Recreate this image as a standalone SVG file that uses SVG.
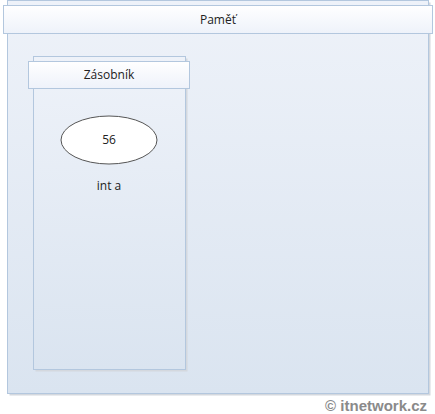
<svg xmlns="http://www.w3.org/2000/svg" width="435" height="414" viewBox="0 0 435 414">
<defs>
<linearGradient id="bg" x1="0" y1="0" x2="0" y2="1">
<stop offset="0" stop-color="#eef2f9"/>
<stop offset="1" stop-color="#dae4f0"/>
</linearGradient>
<linearGradient id="hd" x1="0" y1="0" x2="0" y2="1">
<stop offset="0" stop-color="#ffffff"/>
<stop offset="1" stop-color="#eef2fa"/>
</linearGradient>
</defs>
<style>
.box{fill:url(#bg);stroke:#b3c7de;stroke-width:1}
.shadow{fill:#d4d8de}
.hdr{fill:url(#hd);stroke:#b3c7de;stroke-width:1}
.t{font-family:"Open Sans","Liberation Sans",sans-serif;font-size:12px;fill:#222;text-anchor:middle}
.wm{font-family:"Liberation Sans",Arial,sans-serif;font-size:15px;font-weight:bold;fill:#8a8a8a}
</style>
<rect x="0" y="0" width="435" height="414" fill="#ffffff"/>
<g id="pamet">
<rect class="shadow" x="9.5" y="2.5" width="421" height="393"/>
<rect class="box" x="7.5" y="0.5" width="421" height="393"/>
<rect class="hdr" x="3.5" y="5.5" width="429" height="28"/>
<text class="t" x="218" y="23.5">Paměť</text>
</g>
<g id="zasobnik">
<rect class="shadow" x="35.5" y="58.5" width="152" height="313"/>
<rect class="box" x="33.5" y="56.5" width="152" height="313"/>
<rect class="hdr" x="28.5" y="61.5" width="161" height="27"/>
<text class="t" x="109" y="79">Zásobník</text>
</g>
<g id="hodnota">
<ellipse cx="109" cy="140" rx="48" ry="24" fill="#ffffff" stroke="#555" stroke-width="1"/>
<text class="t" x="109" y="144">56</text>
<text class="t" x="109" y="190">int a</text>
</g>
<g id="connectors"/>
<text class="wm" x="427" y="411" text-anchor="end">© itnetwork.cz</text>
</svg>
